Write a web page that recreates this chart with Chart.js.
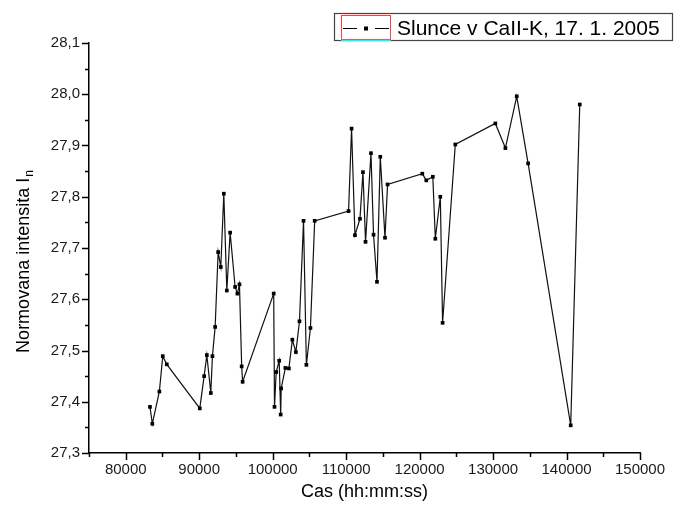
<!DOCTYPE html>
<html lang="cs">
<head>
  <meta charset="UTF-8" />
  <title>Slunce v CaII-K</title>
  <script src="https://cdn.jsdelivr.net/npm/chart.js"></script>
  <style>
    html, body { margin: 0; padding: 0; background: #fff; }
  </style>
</head>
<body>
  <canvas id="graf" width="677" height="514"></canvas>

  <script>
    // cas v sekundach (osa x)
    const casy = [
      83300, 83620, 84580, 85040, 85590, 90080, 90670, 91040, 91580, 91800,
      92170, 92580, 92940, 93350, 93760, 94210, 94890, 95200, 95480, 95780,
      95910, 100140, 100250, 100480, 100890, 101090, 101160, 101730, 102210, 102680,
      103160, 103650, 104200, 104590, 105140, 105720, 110330, 110740, 111200, 111880,
      112290, 112640, 113380, 113730, 114200, 114650, 115290, 115640, 120370, 120910,
      121800, 122140, 122820, 123130, 124860, 130310, 131680, 133220, 134770, 140570,
      141800
    ];

    // normovana intenzita
    const intenzity = [
      27.390, 27.357, 27.420, 27.489, 27.473, 27.387, 27.450, 27.491, 27.417, 27.489,
      27.546, 27.692, 27.663, 27.806, 27.617, 27.730, 27.624, 27.611, 27.629, 27.469,
      27.439, 27.611, 27.390, 27.458, 27.480, 27.375, 27.426, 27.466, 27.465, 27.521,
      27.497, 27.557, 27.753, 27.472, 27.544, 27.753, 27.772, 27.933, 27.725, 27.757,
      27.848, 27.712, 27.885, 27.726, 27.634, 27.878, 27.720, 27.824, 27.845, 27.832,
      27.839, 27.718, 27.800, 27.554, 27.902, 27.943, 27.895, 27.996, 27.865, 27.354,
      27.980
    ];

    const popisek = "Slunce v CaII-K, 17. 1. 2005";
    const xTitulek = "Cas (hh:mm:ss)";
    const yTitulek = "Normovana intensita I";
    const yIndex = "n";

    const pismo = "'Liberation Sans', Arial, sans-serif";

    // carky na osach, nazvy os a legenda
    const doplnky = {
      id: "doplnky",
      afterDraw(chart) {
        const ctx = chart.ctx;
        const { left, right, top, bottom } = chart.chartArea;
        const sx = chart.scales.x;
        const sy = chart.scales.y;

        ctx.save();
        ctx.strokeStyle = "#000";
        ctx.lineWidth = 1.5;
        ctx.beginPath();
        sx.ticks.forEach(t => {
          const px = Math.round(sx.getPixelForValue(t.value)) + 0.5;
          const d = Math.round(t.value) % 10000 === 0 ? 7 : 4;
          ctx.moveTo(px, bottom);
          ctx.lineTo(px, bottom + d);
        });
        sy.ticks.forEach(t => {
          const py = Math.round(sy.getPixelForValue(t.value)) + 0.5;
          const d = Math.round(t.value * 100) % 10 === 0 ? 7 : 4;
          ctx.moveTo(left, py);
          ctx.lineTo(left - d, py);
        });
        ctx.stroke();

        // nazev osy x
        ctx.fillStyle = "#000";
        ctx.font = "18px " + pismo;
        ctx.textAlign = "center";
        ctx.textBaseline = "middle";
        ctx.fillText(xTitulek, (left + right) / 2, 492);

        // nazev osy y s indexem
        ctx.save();
        ctx.translate(23, 262);
        ctx.rotate(-Math.PI / 2);
        ctx.font = "18px " + pismo;
        const w1 = ctx.measureText(yTitulek).width;
        ctx.font = "12px " + pismo;
        const w2 = ctx.measureText(yIndex).width;
        const x0 = -(w1 + w2) / 2;
        ctx.textAlign = "left";
        ctx.textBaseline = "alphabetic";
        ctx.font = "18px " + pismo;
        ctx.fillText(yTitulek, x0, 6);
        ctx.font = "12px " + pismo;
        ctx.fillText(yIndex, x0 + w1 + 1, 10);
        ctx.restore();

        // legenda
        ctx.lineWidth = 1.2;
        ctx.strokeStyle = "#444";
        ctx.strokeRect(334.5, 13.5, 338, 27);
        ctx.strokeStyle = "#ff3b3b";
        ctx.lineWidth = 1;
        ctx.strokeRect(341.5, 15.5, 49, 24);
        ctx.strokeStyle = "#00ffff";
        ctx.lineWidth = 1.5;
        ctx.beginPath();
        ctx.moveTo(341, 40.5);
        ctx.lineTo(391, 40.5);
        ctx.stroke();
        ctx.strokeStyle = "#000";
        ctx.lineWidth = 1;
        ctx.beginPath();
        ctx.moveTo(343, 28.5);
        ctx.lineTo(357, 28.5);
        ctx.moveTo(375, 28.5);
        ctx.lineTo(389, 28.5);
        ctx.stroke();
        ctx.fillStyle = "#000";
        ctx.fillRect(364, 26.5, 4, 4);
        ctx.font = "21px " + pismo;
        ctx.textAlign = "left";
        ctx.textBaseline = "alphabetic";
        ctx.fillText(chart.data.datasets[0].label, 397, 35);
        ctx.restore();
      }
    };

    const body = casy.map((c, i) => ({ x: c, y: intenzity[i] }));

    new Chart(document.getElementById("graf"), {
      type: "line",
      data: {
        datasets: [{
          label: popisek,
          data: body,
          borderColor: "#111",
          borderWidth: 1.2,
          backgroundColor: "#000",
          pointStyle: "rect",
          pointRadius: 2.6,
          pointBorderWidth: 0,
          pointBackgroundColor: "#000",
          tension: 0,
          fill: false
        }]
      },
      options: {
        responsive: false,
        animation: false,
        devicePixelRatio: 1,
        layout: { padding: { top: 43, right: 37, left: 0, bottom: 0 } },
        plugins: {
          legend: { display: false },
          tooltip: { enabled: false }
        },
        scales: {
          x: {
            type: "linear",
            min: 75000,
            max: 150000,
            grid: { display: false, drawTicks: false },
            border: { display: true, color: "#000", width: 1.5 },
            ticks: {
              stepSize: 5000,
              maxTicksLimit: 100,
              autoSkip: false,
              maxRotation: 0,
              padding: 8,
              color: "#1a1a1a",
              font: { family: pismo, size: 15 },
              callback: v => (Math.round(v) % 10000 === 0 ? String(v) : "")
            },
            afterFit(scale) { scale.height = 61; }
          },
          y: {
            min: 27.3,
            max: 28.1,
            grid: { display: false, drawTicks: false },
            border: { display: true, color: "#000", width: 1.5 },
            ticks: {
              stepSize: 0.05,
              maxTicksLimit: 100,
              autoSkip: false,
              padding: 9,
              color: "#1a1a1a",
              font: { family: pismo, size: 15 },
              callback: v => (Math.round(v * 100) % 10 === 0 ? v.toFixed(1).replace(".", ",") : "")
            },
            afterFit(scale) { scale.width = 89; }
          }
        }
      },
      plugins: [doplnky]
    });
  </script>
</body>
</html>
